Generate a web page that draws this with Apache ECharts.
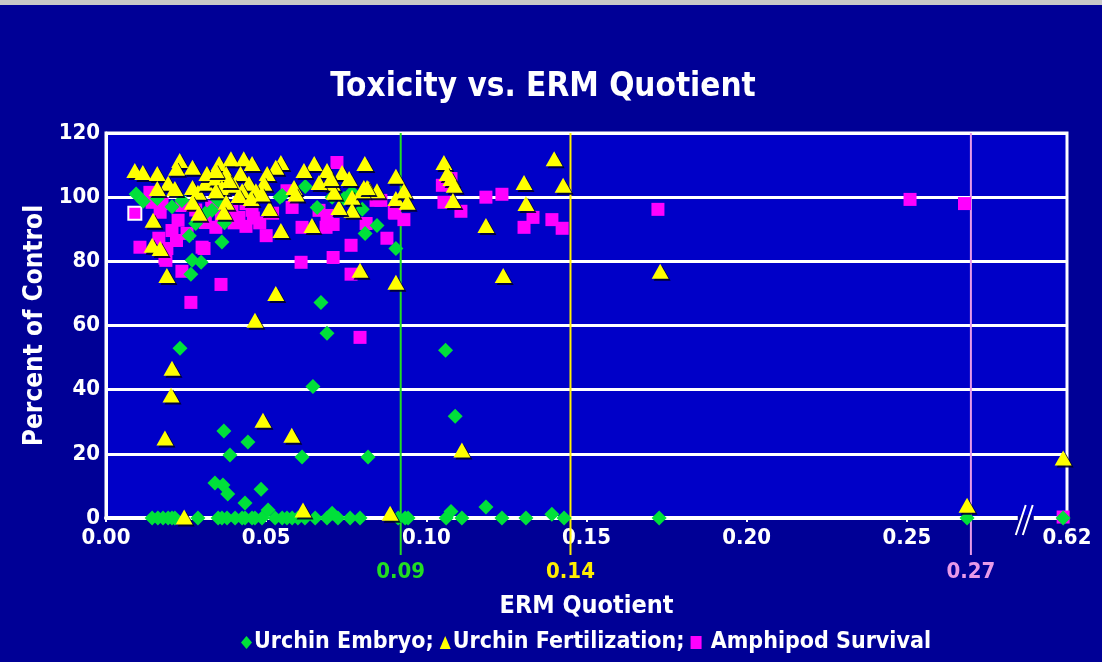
<!DOCTYPE html>
<html>
<head>
<meta charset="utf-8">
<title>Toxicity vs. ERM Quotient</title>
<script src="https://cdn.jsdelivr.net/npm/echarts/dist/echarts.min.js"></script>
<style>
html,body{margin:0;padding:0;background:#000096;}
#chart_main{width:1102px;height:662px;}
</style>
</head>
<body>
<div id="chart_main"></div>
<script type="text/javascript">
// data
var embryoX = [0.0144,0.0162,0.0178,0.0194,0.0206,0.0215,0.0287,0.0350,0.0362,0.0378,0.0403,0.0425,0.0434,0.0456,0.0465,0.0487,0.0506,0.0528,0.0550,0.0565,0.0581,0.0599,0.0621,0.0653,0.0690,0.0706,0.0724,0.0762,0.0793,0.0912,0.0934,0.0943,0.1062,0.1077,0.1111,0.1236,0.1311,0.1392,0.1430,0.1727,0.2688,0.62,
	0.0387,0.0612,0.0818,0.0340,0.0365,0.0380,0.0434,0.0484,0.0443,0.0231,0.0368,0.0646,0.0671,0.0690,0.0265,0.0297,0.0269,0.1060,0.1090,0.1186,
	0.0094,0.0116,0.0160,0.0206,0.0237,0.0280,0.0260,0.0310,0.0370,0.0362,0.0543,0.0550,0.0622,0.0659,0.0350,0.0743,0.0809,0.0846,0.0905,0.0800,0.0706,0.0331,0.0456,0.0768];
var embryoY = [0,0,0,0,0,0,0,0,0,0,0,0,0,0,0,0,2.5,0,0,0,0,0,0,0,0,1.5,0,0,0,0,0,0,0,2,0,0,0,1.2,0,0,0,0,
	19.6,19,19,10.9,10.3,7.5,4.7,9,23.7,52.9,27.1,41,67.2,57.6,76,79.7,80.3,52.3,31.7,3.4,
	101,98.7,99.6,97,99,91.8,88,95,92,86,100,100.5,103.3,96.8,99,99.6,88.7,91.2,84,96.2,100,95.9,100,101.5];

var fertX = [0.0090,0.0115,0.0160,0.0230,0.0220,0.0270,0.0194,0.0160,0.0215,0.0147,0.0144,0.0169,0.0270,0.0287,0.0270,0.0290,0.0310,0.0315,
	0.0190,0.0206,0.0203,0.0184,0.0244,0.0465,0.0490,0.0580,0.0615,0.0887,0.0530,0.0546,0.0510,0.0643,0.0793,0.0905,0.0808,0.0737,0.0759,0.0650,0.0618,0.0690,0.0706,0.0665,0.0768,0.0768,0.0727,0.0805,0.0820,0.0846,0.0905,0.0905,
	0.0353,0.0390,0.0430,0.0456,0.0546,0.0530,0.0343,0.0375,0.0420,0.0503,0.0362,0.0400,0.0446,0.0493,0.0343,0.0425,0.0468,0.0587,0.0593,0.0375,0.0415,0.0453,0.0487,0.0368,0.0343,0.0384,
	0.0712,0.0702,0.0800,0.0815,0.0930,0.0940,
	0.1055,0.1065,0.1077,0.1087,0.1083,0.1186,0.1240,0.1305,0.1311,0.1399,0.1427,0.1111,0.1730,0.2688,0.62];
var fertY = [108.3,107.7,107.4,111.4,109,109.3,104.3,102.7,102.7,92.8,85,84,103,101.5,98.4,95,104.3,107.4,
	75.6,46.7,38.3,24.9,0.3,61.6,30.5,25.8,2.5,1.5,70,89.6,96.5,91.2,77.2,73.5,110.5,107.7,105.8,110.5,108.3,108.3,104.3,104.6,100,95.9,96.8,103,102.7,102,106.5,99.6,
	110.5,112,112,110.5,110.8,109.3,106,107.4,107.4,107.4,103,103.7,104.3,104.3,102,102,102,103,101,98.4,100.5,99.6,101,95.3,108.3,105.2,
	101.5,105.8,102,103,102,98.4,
	110.8,107.4,105.8,103.7,99,91.2,75.6,104.6,98,112,103.7,21.2,76.9,4,18.7];

var amphiX = [0.0090,0.0106,0.0184,0.0137,0.0169,0.0206,0.0225,0.0220,0.0190,0.0237,0.0253,0.0300,0.0310,0.0175,0.0144,0.0165,0.0187,0.0237,0.0265,0.0359,0.0306,
	0.0437,0.0500,0.0609,0.0709,0.0765,0.0765,0.0793,0.0721,0.0612,0.0687,0.0709,0.0665,0.0690,0.0843,0.0877,0.0456,0.0415,0.0375,0.0343,0.0393,0.0437,0.0581,
	0.0900,0.0930,0.0812,0.0902,0.0858,0.0360,0.0400,0.0460,0.0480,0.0280,0.0330,0.0520,0.0565,
	0.1050,0.1077,0.1055,0.1108,0.1186,0.1236,0.1305,0.1333,0.1392,0.1424,0.1723,0.2510,0.2680,0.62];
var amphiY = [95,84.4,81,101.5,95.3,89.6,92.8,86.5,84,97.4,88.7,84.4,92.1,98,98.4,87.2,80.3,76.9,67.2,72.8,84,
	90.9,88,79.7,81.2,85,76,56.3,110.8,90.6,90.6,91.5,95.9,94.3,99,87.2,95.9,93.7,92.8,90.6,95.9,98,96.8,
	95.3,93,91.8,95,99,94,92,93.5,92,96,97,95,102,
	103.7,105.8,98.4,95.6,100,100.9,90.6,93.7,93,90.3,96.2,99.3,98,0.3];

var seriesNames = ['Urchin Embryo','Urchin Fertilization','Amphipod Survival'];
var xTicks = [0,0.05,0.10,0.15,0.20,0.25,0.30];
var xTickLabels = ['0.00','0.05','0.10','0.15','0.20','0.25','0.62'];
var thresholdX = [0.092,0.145,0.27];
var thresholdLabels = ['0.09','0.14','0.27'];
var thresholdColors = ['#22dd22','#ffee00','#e89ae8'];

// axis is broken after 0.30: anything beyond sits at the right edge
var BREAK_AT = 0.30;
function toAxis(v){
	return v > BREAK_AT ? BREAK_AT - 0.0012 : v;
}
function buildPoints(xs, ys){
	var out = [];
	for(var i=0;i<xs.length;i++){
		out.push([toAxis(xs[i]), ys[i]]);
	}
	return out;
}

var FONT = '"DejaVu Sans Condensed","DejaVu Sans",sans-serif';
var myChart = echarts.init(document.getElementById('chart_main'));

var amphiData = buildPoints(amphiX, amphiY);
// the first square is drawn with a white rim
amphiData[0] = {value: amphiData[0], itemStyle: {borderColor:'#ffffff', borderWidth:2}};

var option = {
	backgroundColor: '#000096',
	animation: false,
	textStyle: {fontFamily: FONT},
	title: {
		text: 'Toxicity vs. ERM Quotient',
		left: 538,
		top: 66,
		textAlign: 'center',
		textStyle: {color:'#ffffff', fontSize:33, fontWeight:'bold', fontFamily: FONT}
	},
	grid: {
		left: 106, right: 35, top: 133, bottom: 144,
		show: true,
		backgroundColor: '#0000c8',
		borderColor: '#ffffff',
		borderWidth: 3
	},
	legend: {
		data: [
			{name: seriesNames[0], icon: 'diamond'},
			{name: seriesNames[1], icon: 'triangle'},
			{name: seriesNames[2], icon: 'rect'}
		],
		left: 236,
		top: 626,
		itemWidth: 11,
		itemHeight: 13,
		itemGap: 6,
		formatter: function(name){
			return name == seriesNames[2] ? ' ' + name : name + ';';
		},
		textStyle: {color:'#ffffff', fontSize:23, fontWeight:'bold', fontFamily: FONT, padding:[0,0,0,-3]}
	},
	xAxis: {
		type: 'value',
		min: 0,
		max: BREAK_AT,
		interval: 0.05,
		name: 'ERM Quotient',
		nameLocation: 'middle',
		nameGap: 76,
		nameTextStyle: {color:'#ffffff', fontSize:25, fontWeight:'bold', fontFamily: FONT},
		axisLine: {lineStyle: {color:'#ffffff', width:4}},
		axisTick: {show:true, length:4, lineStyle:{color:'#ffffff', width:2}},
		splitLine: {show:false},
		axisLabel: {
			color:'#ffffff', fontSize:22, fontWeight:'bold', fontFamily: FONT, margin:9,
			showMaxLabel: true,
			formatter: function(v){
				for(var i=0;i<xTicks.length;i++){
					if(Math.abs(xTicks[i]-v) < 1e-6) return xTickLabels[i];
				}
				return '';
			}
		}
	},
	yAxis: {
		type: 'value',
		min: 0,
		max: 120,
		interval: 20,
		name: 'Percent of Control',
		nameLocation: 'middle',
		nameGap: 52,
		nameTextStyle: {color:'#ffffff', fontSize:26, fontWeight:'bold', fontFamily: FONT},
		axisLine: {show:true, lineStyle:{color:'#ffffff', width:3}},
		axisTick: {show:false},
		splitLine: {lineStyle:{color:'#ffffff', width:3}},
		axisLabel: {color:'#ffffff', fontSize:22, fontWeight:'bold', fontFamily: FONT, margin:6}
	},
	series: [
		{
			name: seriesNames[0], type: 'scatter', symbol: 'diamond', symbolSize: [15,15], z: 3,
			itemStyle: {color:'#00e03a', opacity:1},
			data: buildPoints(embryoX, embryoY)
		},
		{
			name: seriesNames[1], type: 'scatter', symbol: 'triangle', symbolSize: [17,15], z: 4,
			itemStyle: {color:'#ffff00', opacity:1, shadowColor:'rgba(0,0,40,0.9)', shadowOffsetX:2, shadowOffsetY:2, shadowBlur:0},
			data: buildPoints(fertX, fertY)
		},
		{
			name: seriesNames[2], type: 'scatter', symbol: 'rect', symbolSize: [13,13], z: 2,
			itemStyle: {color:'#ff00ff', opacity:1},
			data: amphiData
		}
	]
};
myChart.setOption(option);

// threshold lines, their labels, the axis break and the top strip
function drawExtras(){
	var g = [];
	var top = myChart.convertToPixel({gridIndex:0}, [0,120])[1];
	var bottom = myChart.convertToPixel({gridIndex:0}, [0,0])[1];
	for(var i=0;i<thresholdX.length;i++){
		var px = myChart.convertToPixel({gridIndex:0}, [thresholdX[i],0])[0];
		g.push({type:'line', z:1, shape:{x1:px, y1:top, x2:px, y2:bottom+37}, style:{stroke:thresholdColors[i], lineWidth:2}});
		g.push({type:'text', z:5, x:px, y:bottom+43, style:{text:thresholdLabels[i], fill:thresholdColors[i], font:'bold 22px ' + FONT, textAlign:'center', textVerticalAlign:'top'}});
	}
	var bx = myChart.convertToPixel({gridIndex:0}, [0.2865,0])[0];
	g.push({type:'rect', z:6, shape:{x:bx-6, y:bottom-3, width:16, height:6}, style:{fill:'#000096'}});
	g.push({type:'line', z:7, shape:{x1:bx-8, y1:bottom+17, x2:bx+2, y2:bottom-13}, style:{stroke:'#ffffff', lineWidth:2}});
	g.push({type:'line', z:7, shape:{x1:bx-1, y1:bottom+17, x2:bx+9, y2:bottom-13}, style:{stroke:'#ffffff', lineWidth:2}});
	g.push({type:'rect', z:7, shape:{x:0, y:0, width:1102, height:5}, style:{fill:'#c8c8c8'}});
	myChart.setOption({graphic: g});
}
drawExtras();
</script>
</body>
</html>
